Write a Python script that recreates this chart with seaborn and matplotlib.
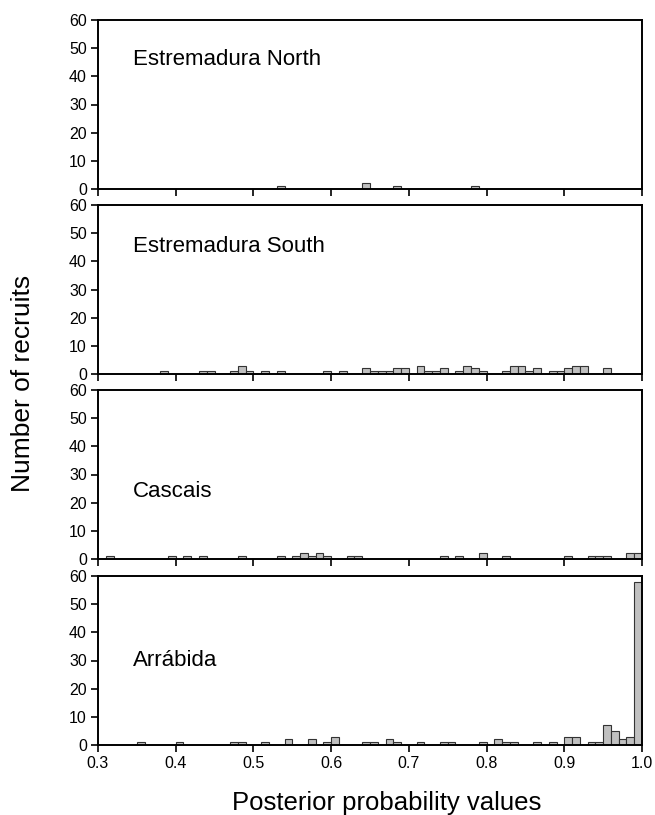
import numpy as np
import pandas as pd
import matplotlib
matplotlib.use("Agg")
import matplotlib.pyplot as plt
import seaborn as sns

# ---- data: lower edge of each 0.01-wide bin and its count ----
north_bins = [0.53, 0.64, 0.68, 0.78]
north_counts = [1, 2, 1, 1]

south_bins = [0.38, 0.43, 0.44, 0.47, 0.48, 0.49, 0.51, 0.53, 0.59, 0.61,
              0.64, 0.65, 0.66, 0.67, 0.68, 0.69, 0.71, 0.72, 0.73, 0.74,
              0.76, 0.77, 0.78, 0.79, 0.82, 0.83, 0.84, 0.85, 0.86, 0.88,
              0.89, 0.90, 0.91, 0.92, 0.95]
south_counts = [1, 1, 1, 1, 3, 1, 1, 1, 1, 1,
                2, 1, 1, 1, 2, 2, 3, 1, 1, 2,
                1, 3, 2, 1, 1, 3, 3, 1, 2, 1,
                1, 2, 3, 3, 2]

cascais_bins = [0.31, 0.39, 0.41, 0.43, 0.48, 0.53, 0.55, 0.56, 0.57, 0.58,
                0.59, 0.62, 0.63, 0.74, 0.76, 0.79, 0.82, 0.90, 0.93, 0.94,
                0.95, 0.98, 0.99]
cascais_counts = [1, 1, 1, 1, 1, 1, 1, 2, 1, 2,
                  1, 1, 1, 1, 1, 2, 1, 1, 1, 1,
                  1, 2, 2]

arrabida_bins = [0.35, 0.40, 0.47, 0.48, 0.51, 0.54, 0.57, 0.59, 0.60, 0.64,
                 0.65, 0.67, 0.68, 0.71, 0.74, 0.75, 0.79, 0.81, 0.82, 0.83,
                 0.86, 0.88, 0.90, 0.91, 0.93, 0.94, 0.95, 0.96, 0.97, 0.98,
                 0.99]
arrabida_counts = [1, 1, 1, 1, 1, 2, 2, 1, 3, 1,
                   1, 2, 1, 1, 1, 1, 1, 2, 1, 1,
                   1, 1, 3, 3, 1, 1, 7, 5, 2, 3,
                   58]

panel_names = ["Estremadura North", "Estremadura South", "Cascais", "Arrábida"]
x_ticks = [0.3, 0.4, 0.5, 0.6, 0.7, 0.8, 0.9, 1.0]
y_ticks = [0, 10, 20, 30, 40, 50, 60]

sns.set_theme(style="white")
plt.rcParams["font.family"] = ["Liberation Sans", "DejaVu Sans"]

W, H = 655, 815
fig = plt.figure(figsize=(W / 100, H / 100), dpi=100)

left_px, right_px = 98, 642
tops = [20, 205, 390, 576]
height_px = 169
label_y = [0.765, 0.755, 0.40, 0.50]

panels = [(north_bins, north_counts), (south_bins, south_counts),
          (cascais_bins, cascais_counts), (arrabida_bins, arrabida_counts)]

for i, ((bins, counts), name) in enumerate(zip(panels, panel_names)):
    top = tops[i]
    ax = fig.add_axes([left_px / W, 1 - (top + height_px) / H,
                       (right_px - left_px) / W, height_px / H])
    df = pd.DataFrame({"value": np.array(bins) + 0.005, "count": counts})
    sns.histplot(data=df, x="value", weights="count", binwidth=0.01,
                 binrange=(0.3, 1.0), color="#c0c0c0", alpha=1,
                 edgecolor="#333333", linewidth=0.8, ax=ax)
    ax.set_xlim(0.3, 1.0)
    ax.set_ylim(0, 60)
    ax.set_xticks(x_ticks)
    ax.set_yticks(y_ticks)
    ax.tick_params(axis="both", direction="out", length=5, width=1.2,
                   color="black", labelsize=11.5, labelcolor="black",
                   bottom=True, left=True, pad=3)
    for s in ax.spines.values():
        s.set_color("black")
        s.set_linewidth(1.4)
    ax.set_ylabel("")
    if i < 3:
        ax.set_xticklabels([])
        ax.set_xlabel("")
    else:
        ax.set_xticklabels([f"{t:.1f}" for t in x_ticks])
        ax.set_xlabel("Posterior probability values", fontsize=18.5,
                      color="black")
        ax.xaxis.set_label_coords(0.53, -0.27)
    ax.text(0.064, label_y[i], name, transform=ax.transAxes, fontsize=16,
            va="center", ha="left", color="black")

fig.text(23 / W, 1 - 383 / H, "Number of recruits", rotation=90,
         fontsize=19, va="center", ha="center", color="black")

fig.savefig("out.png", dpi=100, facecolor="white")
